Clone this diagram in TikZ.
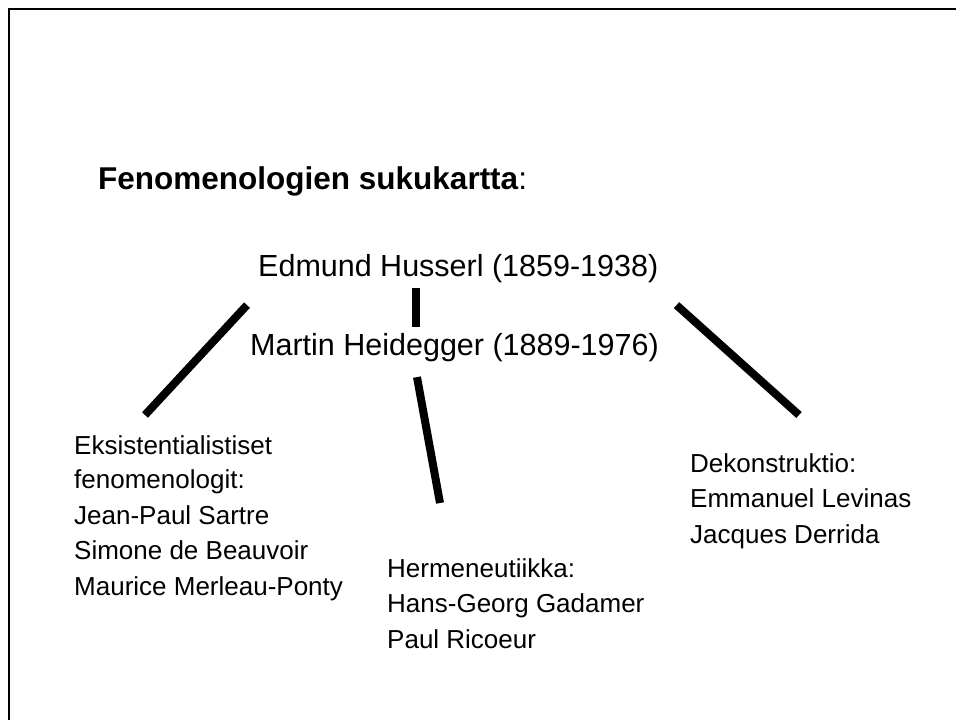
\documentclass[tikz,border=0pt]{standalone}
\usepackage{fontspec}
\setmainfont{Liberation Sans}
\usepackage{tikz}

\begin{document}
\begin{tikzpicture}[x=1pt, y=-1pt,
    iso/.style={inner sep=0pt, anchor=base west, font=\fontsize{30.5}{36}\selectfont},
    pieni/.style={inner sep=0pt, anchor=north west, align=left, font=\fontsize{26}{35.5}\selectfont},
    haara/.style={line width=8pt}]
    \useasboundingbox (0,0) rectangle (956,720);
    \draw [line width=2.5pt] (956,9) -- (9,9) -- (9,720);

    \node (otsikko) [iso, font=\fontsize{31.5}{36}\selectfont] at (98,189) {\textbf{Fenomenologien sukukartta}:};
    \node (husserl) [iso] at (258,276) {Edmund Husserl (1859-1938)};
    \node (heidegger) [iso] at (250,355) {Martin Heidegger (1889-1976)};
    \node (eksist) [pieni] at (74,435) {Eksistentialistiset\\[-1pt] fenomenologit:\\ Jean-Paul Sartre\\ Simone de Beauvoir\\ Maurice Merleau-Ponty};
    \node (herme) [pieni] at (387,558) {Hermeneutiikka:\\ Hans-Georg Gadamer\\ Paul Ricoeur};
    \node (dekon) [pieni] at (690,453) {Dekonstruktio:\\ Emmanuel Levinas\\ Jacques Derrida};

    \draw [haara] ([xshift=158pt, yshift=-5.6pt]husserl.south west) -- ([xshift=166pt, yshift=5.7pt]heidegger.north west);
    \draw [haara] ([xshift=-11pt, yshift=-22.6pt]husserl.south west) -- ([xshift=71pt, yshift=20pt]eksist.north west);
    \draw [haara] ([xshift=167pt, yshift=-15.6pt]heidegger.south west) -- ([xshift=53pt, yshift=55pt]herme.north west);
    \draw [haara] ([xshift=18pt, yshift=-22.6pt]husserl.south east) -- ([xshift=109pt, yshift=38pt]dekon.north west);
\end{tikzpicture}
\end{document}
